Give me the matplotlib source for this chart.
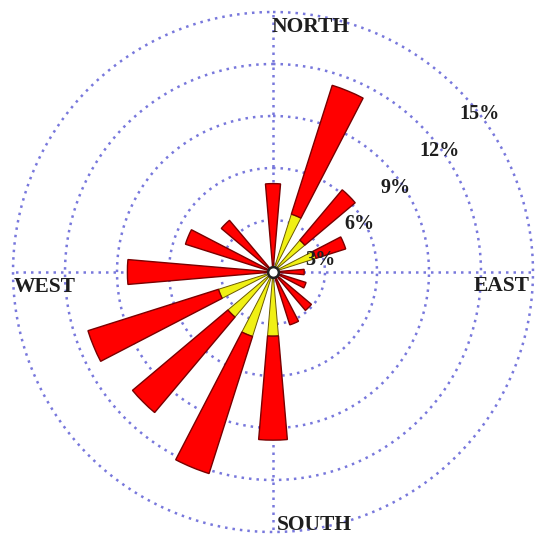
import numpy as np
import matplotlib
matplotlib.use("Agg")
import matplotlib.pyplot as plt

# Data (percent frequency), 16 compass directions, clockwise from North
directions = ["N", "NNE", "NE", "ENE", "E", "ESE", "SE", "SSE",
              "S", "SSW", "SW", "WSW", "W", "WNW", "NW", "NNW"]
bearings_deg = [0, 22.5, 45, 67.5, 90, 112.5, 135, 157.5,
                180, 202.5, 225, 247.5, 270, 292.5, 315, 337.5]
total_pct = [5.1, 11.3, 6.2, 4.4, 1.8, 2.0, 2.9, 3.2,
             9.7, 12.2, 10.6, 11.2, 8.4, 5.3, 3.9, 0.0]
low_pct = [0.0, 3.5, 2.4, 2.6, 0.0, 0.0, 0.0, 0.0,
           3.7, 3.9, 3.4, 3.3, 0.0, 0.0, 0.0, 0.0]

ring_values = [3, 6, 9, 12, 15]
ring_labels = ["3%", "6%", "9%", "12%", "15%"]
ring_label_pos = [(76, 2.8), (61, 5.7), (55.6, 8.6), (54, 11.9), (52.5, 15.0)]
compass_labels = ["NORTH", "EAST", "SOUTH", "WEST"]

W, H = 537, 541
fig = plt.figure(figsize=(W / 100, H / 100), dpi=100)
cx, cy, R = 273, 272, 260
ax = fig.add_axes([(cx - R) / W, (H - cy - R) / H, 2 * R / W, 2 * R / H],
                  projection="polar")
ax.set_theta_zero_location("N")
ax.set_theta_direction(-1)
ax.set_ylim(0, 15)
ax.grid(False)
ax.set_xticks([])
ax.set_yticks([])
ax.spines["polar"].set_visible(False)
ax.patch.set_alpha(0)

grid_col = "#7878dc"
dots = (0, (1, 2.0))
th = np.linspace(0, 2 * np.pi, 400)
for rv in ring_values:
    ax.plot(th, np.full_like(th, rv), color=grid_col, lw=1.8,
            ls=dots, clip_on=False, zorder=1)
for b in [0, 90, 180, 270]:
    ax.plot([np.radians(b)] * 2, [0, 15], color=grid_col, lw=1.8,
            ls=dots, clip_on=False, zorder=1)

theta = np.radians(bearings_deg)
width = np.radians(9.8)
low = np.array(low_pct)
tot = np.array(total_pct)
ax.bar(theta, low, width=width, bottom=0, color="#f0f014",
       edgecolor="#6b5a00", linewidth=0.7, zorder=3)
ax.bar(theta, tot - low, width=width, bottom=low, color="#ff0000",
       edgecolor="#7a0000", linewidth=1.0, zorder=3)

ax.scatter([0], [0], s=60, facecolor="white", edgecolor="#222222",
           linewidth=1.8, zorder=5)

serif = ["Liberation Serif", "DejaVu Serif"]
for lab, (b, r) in zip(ring_labels, ring_label_pos):
    ax.text(np.radians(b), r, lab, ha="center", va="center",
            fontsize=14.5, fontweight="bold", family=serif,
            color="#1e1e1e", zorder=6)

fig.text(272 / W, 1 - 27 / H, compass_labels[0], ha="left", va="center",
         fontsize=15.5, fontweight="bold", family=serif, color="#1e1e1e")
fig.text(502 / W, 1 - 286 / H, compass_labels[1], ha="center", va="center",
         fontsize=15.5, fontweight="bold", family=serif, color="#1e1e1e")
fig.text(277 / W, 1 - 525 / H, compass_labels[2], ha="left", va="center",
         fontsize=15.5, fontweight="bold", family=serif, color="#1e1e1e")
fig.text(45 / W, 1 - 287 / H, compass_labels[3], ha="center", va="center",
         fontsize=15.5, fontweight="bold", family=serif, color="#1e1e1e")

fig.savefig("out.png", dpi=100, facecolor="white")
